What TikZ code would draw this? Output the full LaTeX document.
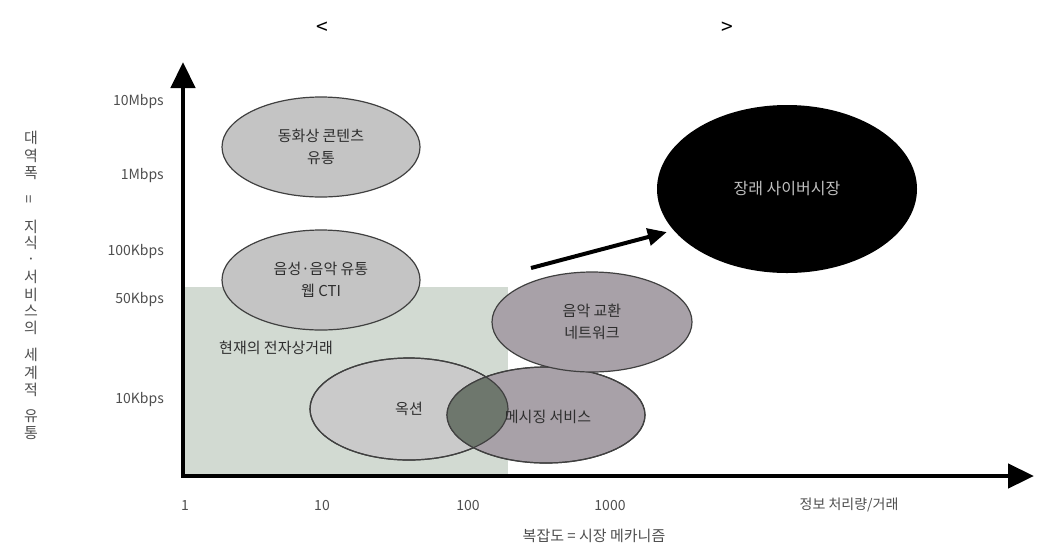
\documentclass[tikz,border=0pt]{standalone}
\usepackage{fontspec}
\setmainfont{Noto Sans CJK KR}
\usetikzlibrary{shapes.geometric,arrows.meta}
\definecolor{bord}{HTML}{404040}
\definecolor{lgray}{HTML}{C4C4C4}
\definecolor{agray}{HTML}{CACACA}
\definecolor{pgray}{HTML}{A8A1A8}
\definecolor{ovl}{HTML}{6E776D}
\definecolor{rectc}{HTML}{D2DAD2}
\definecolor{txt}{HTML}{2E2E2E}
\definecolor{tick}{HTML}{4E4E4E}
\begin{document}
\begin{tikzpicture}[x=1pt,y=-1pt,
  bub/.style={ellipse, draw=bord, line width=1.2pt, inner sep=0pt, align=center,
    text=txt, font=\fontsize{15}{22}\selectfont},
  lbl/.style={inner sep=0pt, text=txt, font=\fontsize{15}{22}\selectfont, align=center},
  ticklbl/.style={inner sep=0pt, text=tick, font=\fontsize{14}{16}\selectfont},
  ylab/.style={inner sep=0pt, text=tick, font=\fontsize{15}{16}\selectfont},
  axis/.style={line width=4.5pt, -{Triangle[length=26pt,width=24pt]}},
]
\useasboundingbox (0,0) rectangle (1048,550);

% title
\node[inner sep=0pt, font=\fontsize{21}{24}\selectfont] (tl) at (322,28) {<};
\node[inner sep=0pt, font=\fontsize{21}{24}\selectfont] (tr) at (727,28) {>};

% current e-commerce area
\fill[rectc] (183,287) rectangle (508,476);
\node[lbl, anchor=west] (cur) at (219,348) {현재의 전자상거래};

% axes
\coordinate (O) at (183,476);
\coordinate (Ytop) at (183,62);
\coordinate (Xend) at (1034,476);
\coordinate (Oleft) at (181,476);
\draw[axis] (O) -- (Ytop);
\draw[axis] (Oleft) -- (Xend);

% y tick labels
\node[ticklbl, anchor=east] (y1) at (164,102) {10Mbps};
\node[ticklbl, anchor=east] (y2) at (164,176) {1Mbps};
\node[ticklbl, anchor=east] (y3) at (164,252) {100Kbps};
\node[ticklbl, anchor=east] (y4) at (164,300) {50Kbps};
\node[ticklbl, anchor=east] (y5) at (164,400) {10Kbps};

% x tick labels
\node[ticklbl] (x1) at (185,505) {1};
\node[ticklbl] (x2) at (322,505) {10};
\node[ticklbl] (x3) at (468,505) {100};
\node[ticklbl] (x4) at (610,505) {1000};
\node[ticklbl] (x5) at (849,505) {정보 처리량/거래};
\node[ticklbl, font=\fontsize{15}{16}\selectfont] (xt) at (594,536) {복잡도 = 시장 메카니즘};

% y axis title (stacked)
\foreach \c/\yy [count=\i] in {대/138, 역/156, 폭/173, 지/227, 식/243, ·/261, 서/277, 비/295, 스/311, 의/328, 세/355, 계/373, 적/390, 유/416, 통/433}
  \node[ylab] (yl\i) at (31,\yy) {\c};
\node[ylab, rotate=90] (yleq) at (31,199) {=};

% bubbles
\node[bub, fill=lgray, minimum width=198pt, minimum height=100pt] (video) at (321,147) {동화상 콘텐츠\\유통};
\node[bub, fill=lgray, minimum width=198pt, minimum height=100pt] (voice) at (321,280) {음성·음악 유통\\웹 CTI};

\node[bub, fill=agray, minimum width=198pt, minimum height=102pt] (auction) at (409,409) {};
\node[bub, fill=pgray, minimum width=198pt, minimum height=96pt] (msg) at (546,415) {};
\begin{scope}
  \clip (409,409) ellipse [x radius=99, y radius=51];
  \fill[ovl] (546,415) ellipse [x radius=99, y radius=48];
\end{scope}
\draw[bord, line width=1.2pt] (409,409) ellipse [x radius=99, y radius=51];
\draw[bord, line width=1.2pt] (546,415) ellipse [x radius=99, y radius=48];
\node[lbl] (auctxt) at (auction.center) {옥션};
\node[lbl] (msgtxt) at (548,417) {메시징 서비스};

\node[bub, fill=pgray, minimum width=200pt, minimum height=100pt] (music) at (592,322) {음악 교환\\네트워크};

\node[ellipse, fill=black, inner sep=0pt, minimum width=260pt, minimum height=168pt,
  text=black!25, font=\fontsize{16}{20}\selectfont] (future) at (787,189) {장래 사이버시장};

% trend arrow
\coordinate (arrS) at (531,268);
\draw[line width=4pt, -{Triangle[length=19pt,width=17pt]}, shorten >=7pt] (arrS) -- (future.200);
\end{tikzpicture}
\end{document}
